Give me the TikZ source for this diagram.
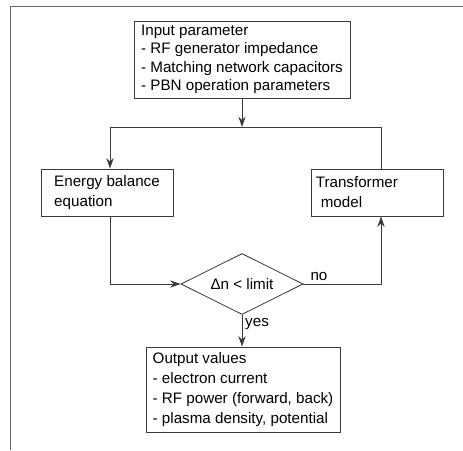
\documentclass[tikz,border=0pt]{standalone}
\usepackage{fontspec}
\setmainfont{Liberation Sans}
\usetikzlibrary{positioning,shapes.geometric,arrows.meta}
\definecolor{linecol}{HTML}{3A3A3A}
\definecolor{framecol}{HTML}{6A6A6A}
\tikzset{
    x=0.025cm, y=-0.025cm, % one unit is one pixel of the reference
    block/.style={draw=linecol, line width=0.6pt, align=left, inner xsep=0.12cm, inner ysep=0.05cm,
        font=\fontsize{10.8}{14.2}\selectfont},
    decision/.style={diamond, draw=linecol, line width=0.6pt, aspect=2, inner sep=0pt,
        minimum width=3.05cm, minimum height=1.525cm, font=\fontsize{10.8}{13}\selectfont},
    conn/.style={draw=linecol, line width=0.6pt},
    flow/.style={conn, -{Stealth[length=2.6mm,width=1.8mm]}},
    lbl/.style={font=\fontsize{10.8}{13}\selectfont, inner sep=2pt},
}

\begin{document}
\begin{tikzpicture}
  \useasboundingbox (0,0) rectangle (463,450);
  % page frame
  \draw[framecol, line width=0.6pt] (463,6) -- (10,6) -- (10,450);

  \node[block, font=\fontsize{10.8}{13.2}\selectfont, minimum width=5.4cm, minimum height=1.925cm] (input) at (242,59.5)
      {Input parameter\\- RF generator impedance\\- Matching network capacitors\\- PBN operation parameters};
  \node[block, minimum width=3.3cm, minimum height=1.175cm] (energy) at (107,192.5)
      {Energy balance\\equation};
  \node[block, text width=3.06cm, minimum height=1.175cm] (transformer) at (377,192.5)
      {Transformer\\\ model};
  \node[decision] (test) at (242,284) {Δn < limit};
  \node[block, minimum width=4.85cm, minimum height=2.125cm] (output) at (243,389.5)
      {Output values\\- electron current\\- RF power (forward, back)\\- plasma density, potential};

  \coordinate (split) at (242,127);
  \coordinate (splitL) at (110,127);
  \coordinate (splitR) at (381,127);

  \draw[flow] (input.south) -- (split);
  \draw[conn] (splitL) -- (splitR);
  \draw[flow] (splitL) -- (splitL |- energy.north);
  \draw[conn] (splitR |- transformer.north) -- (splitR);
  \draw[flow] (splitL |- energy.south) |- (test.west);
  \draw[flow] (test.east) -| node[lbl, pos=0.1, above] {no} (splitR |- transformer.south);
  \draw[flow] (test.south) -- node[lbl, pos=0.3, right] {yes} (test.south |- output.north);
\end{tikzpicture}
\end{document}
